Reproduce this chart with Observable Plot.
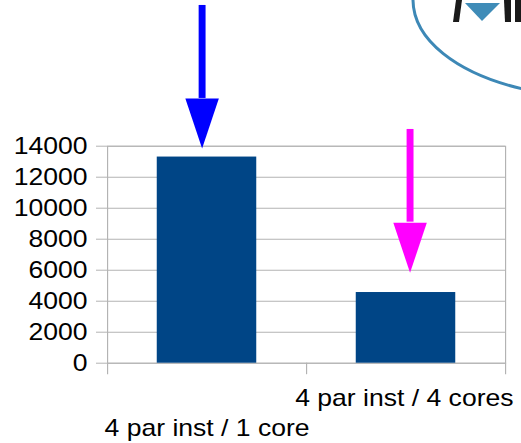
<!DOCTYPE html>
<html>
<head>
<meta charset="utf-8">
<script src="https://cdn.jsdelivr.net/npm/d3@7"></script>
<script src="https://cdn.jsdelivr.net/npm/@observablehq/plot@0.6"></script>
<style>
  html, body { margin: 0; padding: 0; background: #fff; }
  #wrap { position: relative; width: 521px; height: 443px; overflow: hidden; }
  #logo { position: absolute; left: 0; top: 0; pointer-events: none; }
</style>
</head>
<body>
<div id="wrap"></div>
<script>
// Runtime of 4 parallel instances, on one core vs. on four cores
const categories = ["4 par inst / 1 core", "4 par inst / 4 cores"];
const values = [13300, 4560];
const yTicks = [0, 2000, 4000, 6000, 8000, 10000, 12000, 14000];

// Annotation arrows (x in category units, y in value units)
const arrowX = [0.475, 1.52];
const arrowStart = [23080, 15080];
const arrowBase = [17080, 9100];
const arrowTip = [13850, 5830];
const arrowColors = ["#0000ff", "#ff00ff"];

const bars = categories.map((category, index) => ({category, value: values[index], index}));
const arrows = arrowX.map((x, i) => ({x, start: arrowStart[i], base: arrowBase[i], tip: arrowTip[i], color: arrowColors[i]}));

// Narrow down-pointing triangle whose tip sits at the anchor point
const arrowHead = {
  draw(context, size) {
    const r = Math.sqrt(size / Math.PI);
    const h = r, w = r * 0.58;
    context.moveTo(0, 0);
    context.lineTo(-w / 2, -h);
    context.lineTo(w / 2, -h);
    context.closePath();
  }
};

const outerWidth = 521, outerHeight = 443;
const stretch = 1.155; // text and marks are drawn horizontally widened
const innerWidth = outerWidth / stretch;
const grid = "#b3b3b3";

const chart = Plot.plot({
  width: innerWidth,
  height: outerHeight,
  marginLeft: 107 / stretch,
  marginRight: innerWidth - 505 / stretch,
  marginTop: 145.7,
  marginBottom: outerHeight - 362.7,
  style: {fontFamily: "'Liberation Sans', Arial, sans-serif", fontSize: "23px", color: "#000", background: "#fff"},
  x: {domain: [0, categories.length]},
  y: {domain: [0, 14000]},
  color: {type: "identity"},
  marks: [
    Plot.gridY({ticks: yTicks, stroke: grid, strokeOpacity: 1}),
    Plot.frame({stroke: grid}),
    Plot.rectY(bars, {x1: d => d.index + 0.25, x2: d => d.index + 0.75, y: "value", fill: "#004586"}),
    Plot.axisY({ticks: yTicks, tickFormat: "d", tickSize: 11 / stretch, tickPadding: 9 / stretch, stroke: grid, fill: "#000", label: null}),
    Plot.axisX({ticks: d3.range(0, categories.length + 1), tickFormat: () => "", tickSize: 11.5, stroke: grid, label: null}),
    Plot.text(bars, {filter: d => d.index % 2 === 0, x: d => d.index + 0.5, y: 0, dy: 65.4, text: "category", fill: "#000"}),
    Plot.text(bars, {filter: d => d.index % 2 === 1, x: d => d.index + 0.5, y: 0, dx: -1.5, dy: 35.6, text: "category", fill: "#000"}),
    Plot.ruleX(arrows, {x: "x", y1: "start", y2: "base", stroke: "color", strokeWidth: 6}),
    Plot.dot(arrows, {x: "x", y: "tip", r: 50, symbol: arrowHead, fill: "color", stroke: "none"})
  ]
});

chart.setAttribute("width", outerWidth);
chart.setAttribute("height", outerHeight);
chart.setAttribute("preserveAspectRatio", "none");
chart.style.width = outerWidth + "px";
chart.style.height = outerHeight + "px";
chart.style.maxWidth = "none";
chart.style.overflow = "visible";
document.getElementById("wrap").appendChild(chart);

// Corner logo: oval outline with the top of the lettering
const logo = d3.select("#wrap").append("svg")
  .attr("id", "logo")
  .attr("width", outerWidth)
  .attr("height", outerHeight);
logo.append("path")
  .attr("d", "M413,-2 C412,40 458,74 523,89")
  .attr("fill", "none")
  .attr("stroke", "#3d88b6")
  .attr("stroke-width", 3);
logo.append("path")
  .attr("d", "M456,0 L462,0 L459,22 L453,22 Z")
  .attr("fill", "#1a1a1a");
logo.append("path")
  .attr("d", "M465,3 L500,3 L482,21 Z")
  .attr("fill", "#3f8cb8");
logo.append("path")
  .attr("d", "M504,0 L511,0 L511,22 L505,22 Z")
  .attr("fill", "#1a1a1a");
logo.append("path")
  .attr("d", "M515,0 L521,0 L521,22 L515,22 Z")
  .attr("fill", "#1a1a1a");
</script>
</body>
</html>
